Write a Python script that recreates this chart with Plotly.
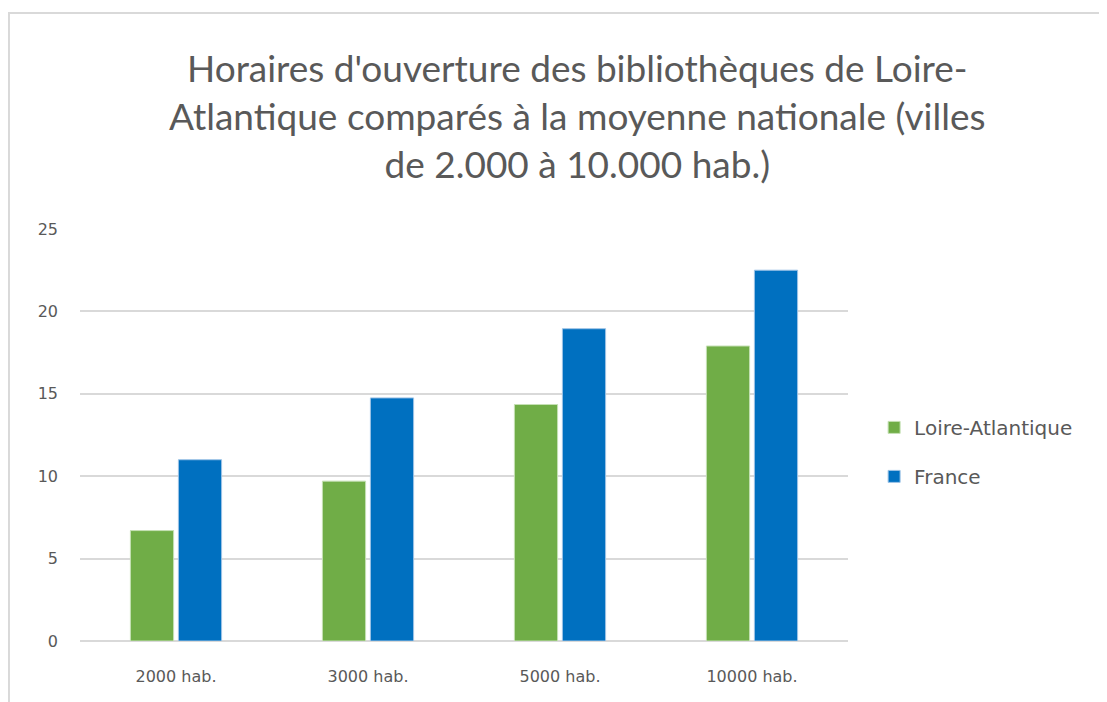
import plotly.graph_objects as go

categories = ["2000 hab.", "3000 hab.", "5000 hab.", "10000 hab."]
loire_atlantique = [6.7, 9.7, 14.35, 17.9]
france = [11.0, 14.75, 18.95, 22.5]
y_ticks = [0, 5, 10, 15, 20, 25]

title_text = ("Horaires d'ouverture des bibliothèques de Loire-<br>"
              "Atlantique comparés à la moyenne nationale (villes<br>"
              "de 2.000 à 10.000 hab.)")

fig = go.Figure()
fig.add_trace(go.Bar(name="Loire-Atlantique", x=categories, y=loire_atlantique,
                     legendgroup="a",
                     marker=dict(color="#70AD47", line=dict(color="#c5e0b4", width=1))))
fig.add_trace(go.Bar(name="France", x=categories, y=france,
                     legendgroup="b",
                     marker=dict(color="#0070C0", line=dict(color="#9dc3e6", width=1))))

fig.update_layout(
    width=1099, height=694,
    paper_bgcolor="white", plot_bgcolor="white",
    margin=dict(l=72, r=259, t=221, b=61),
    barmode="group", bargap=0.5, bargroupgap=0.1,
    title=dict(text=title_text, x=0.518, xanchor="center", y=0.893, yanchor="top",
               font=dict(family="Lato", size=37, color="#595959")),
    font=dict(family="DejaVu Sans", color="#595959", size=16),
    legend=dict(x=1.034, y=0.459, xanchor="left", yanchor="middle",
                font=dict(family="DejaVu Sans", size=20, color="#595959"),
                traceorder="grouped", tracegroupgap=20, bgcolor="rgba(0,0,0,0)"),
    xaxis=dict(showgrid=False, showline=False, ticks="", ticklabelstandoff=24,
               tickfont=dict(size=16)),
    yaxis=dict(range=[0, 25], tickvals=y_ticks, showgrid=True, gridcolor="#d9d9d9",
               gridwidth=1.5, zeroline=True, zerolinecolor="#d9d9d9", zerolinewidth=1.5,
               showline=False, ticks="", ticklabelstandoff=21, tickfont=dict(size=16)),
    shapes=[dict(type="rect", xref="paper", yref="paper", x0=-0.0925, x1=1.6,
                 y0=-0.5, y1=1.524, line=dict(color="#d9d9d9", width=2),
                 fillcolor="rgba(0,0,0,0)", layer="below")],
)

fig.write_html("out.html")
